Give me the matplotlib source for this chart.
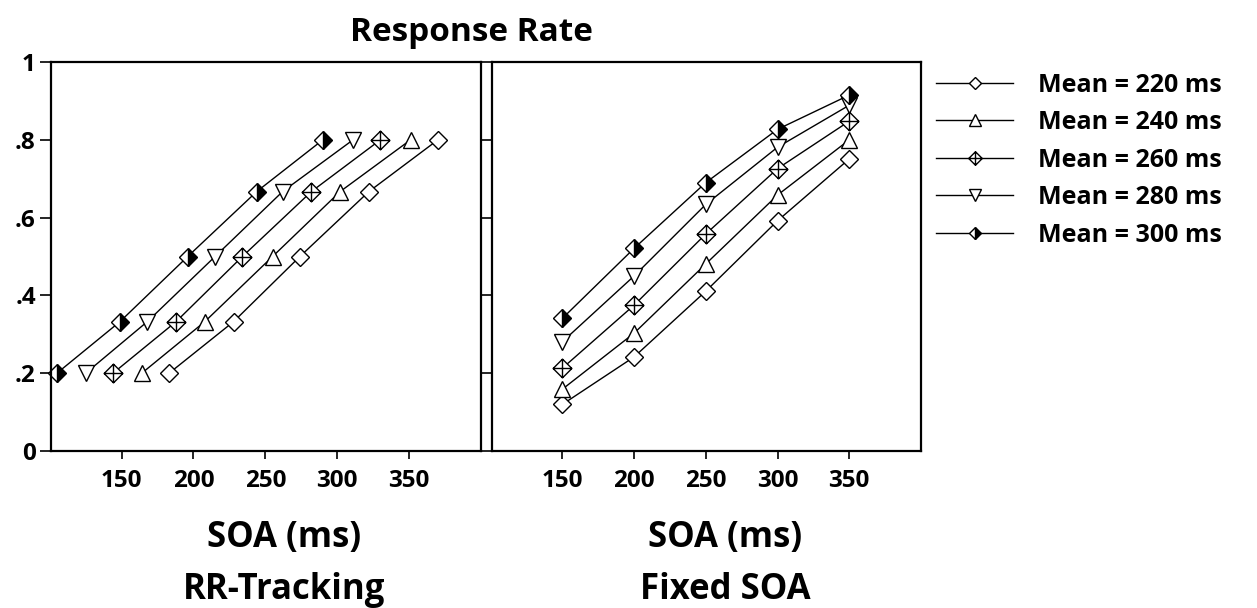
import numpy as np
import matplotlib
matplotlib.use('Agg')
import matplotlib.pyplot as plt
from matplotlib.path import Path

# -----------------------------
# Data
# -----------------------------
means = ['220', '240', '260', '280', '300']

# RR-Tracking: fixed response levels, SOA varies
rr_levels = [0.2, 0.333, 0.5, 0.667, 0.8]
rr_soa_220 = [183, 228, 274, 322, 370]
rr_soa_240 = [164, 208, 255, 302, 351]
rr_soa_260 = [144, 188, 234, 282, 330]
rr_soa_280 = [125, 168, 215, 262, 311]
rr_soa_300 = [105, 149, 196, 244, 290]

# Fixed SOA: fixed SOAs, response rate varies
fx_soa = [150, 200, 250, 300, 350]
fx_rate_220 = [0.12, 0.242, 0.411, 0.592, 0.751]
fx_rate_240 = [0.159, 0.303, 0.481, 0.658, 0.80]
fx_rate_260 = [0.213, 0.375, 0.558, 0.726, 0.848]
fx_rate_280 = [0.281, 0.45, 0.634, 0.781, 0.889]
fx_rate_300 = [0.341, 0.521, 0.69, 0.827, 0.915]

xticks = [150, 200, 250, 300, 350]
yticks = [0, 0.2, 0.4, 0.6, 0.8, 1.0]
yticklabels = ['0', '.2', '.4', '.6', '.8', '1']

# -----------------------------
# Style
# -----------------------------
plt.rcParams['font.family'] = ['Open Sans', 'DejaVu Sans']
plt.rcParams['font.weight'] = 'bold'

# diamond with a cross inside
crossed = Path([(0, -1), (1, 0), (0, 1), (-1, 0), (0, -1),
                (0, -1), (0, 1), (-1, 0), (1, 0)],
               [Path.MOVETO, Path.LINETO, Path.LINETO, Path.LINETO, Path.CLOSEPOLY,
                Path.MOVETO, Path.LINETO, Path.MOVETO, Path.LINETO])

styles = [
    dict(marker='D', ms=9, mfc='white'),
    dict(marker='^', ms=12, mfc='white'),
    dict(marker=crossed, ms=13.5, mfc='white'),
    dict(marker='v', ms=12, mfc='white'),
    dict(marker='D', ms=9, mfc='black', fillstyle='right', markerfacecoloralt='white'),
]
common = dict(color='black', lw=1.0, mec='black', mew=1.0)

fig = plt.figure(figsize=(12.57, 6.08), dpi=100)
ax1 = fig.add_axes([0.0406, 0.258, 0.3421, 0.640])
ax2 = fig.add_axes([0.3914, 0.258, 0.3413, 0.640])

rr_series = [rr_soa_220, rr_soa_240, rr_soa_260, rr_soa_280, rr_soa_300]
fx_series = [fx_rate_220, fx_rate_240, fx_rate_260, fx_rate_280, fx_rate_300]

handles = []
for i in range(5):
    ax1.plot(rr_series[i], rr_levels, clip_on=False, **common, **styles[i])
    ax2.plot(fx_soa, fx_series[i], clip_on=False, **common, **styles[i])
    sm = dict(styles[i])
    sm['ms'] = sm['ms'] * 0.72
    h, = ax2.plot([], [], **common, **sm)
    handles.append(h)

for ax in (ax1, ax2):
    ax.set_xlim(101, 400)
    ax.set_ylim(0, 1)
    ax.set_xticks(xticks)
    ax.tick_params(axis='x', direction='out', length=6, width=1.2,
                   labelsize=17.5, pad=7)
    for s in ax.spines.values():
        s.set_linewidth(1.6)

ax1.set_yticks(yticks)
ax1.set_yticklabels(yticklabels)
ax1.tick_params(axis='y', direction='out', length=8, width=1.2,
                labelsize=17.5, pad=3, right=True)
ax2.set_yticks([])

fig.text(0.375, 0.947, 'Response Rate', ha='center', va='center', fontsize=24)
fig.text(0.226, 0.115, 'SOA (ms)', ha='center', va='center', fontsize=25)
fig.text(0.226, 0.03, 'RR-Tracking', ha='center', va='center', fontsize=25)
fig.text(0.577, 0.115, 'SOA (ms)', ha='center', va='center', fontsize=25)
fig.text(0.577, 0.03, 'Fixed SOA', ha='center', va='center', fontsize=25)

fig.legend(handles, ['Mean = %s ms' % m for m in means],
           loc='upper left', bbox_to_anchor=(0.737, 0.897), frameon=False,
           fontsize=18, handlelength=3.08, handletextpad=1.0, labelspacing=0.5,
           borderaxespad=0)

fig.savefig('out.png', dpi=100)
